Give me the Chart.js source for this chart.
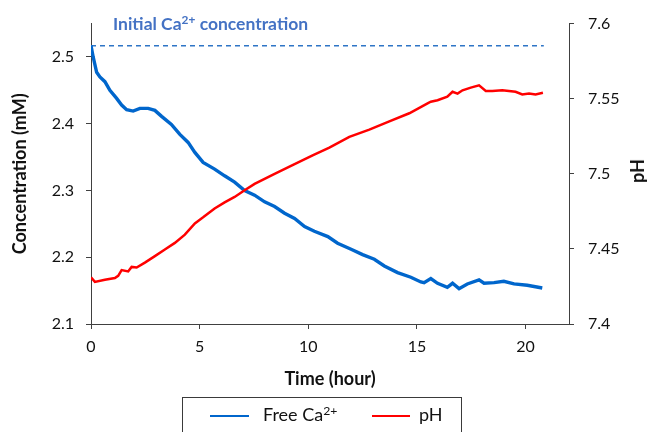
<!DOCTYPE html>
<html>
<head>
<meta charset="utf-8">
<script src="https://cdn.jsdelivr.net/npm/chart.js@4/dist/chart.umd.min.js"></script>
<style>
  html, body { margin: 0; padding: 0; background: #fff; overflow: hidden; }
  #wrap { position: relative; width: 647px; height: 432px; overflow: hidden; font-family: Lato, "Open Sans", sans-serif; }
  #chart { position: absolute; left: 0; top: 0; }
  .note { position: absolute; left: 113px; top: 13px; font-weight: bold; font-size: 17.5px; color: #4472C4; white-space: nowrap; }
  sup { font-size: 0.68em; vertical-align: 0; position: relative; top: -0.5em; line-height: 0; }
  .ytitle-r { position: absolute; left: 637px; top: 171px; transform: translate(-50%, -50%) rotate(-90deg); font-weight: bold; font-size: 18px; color: #111; white-space: nowrap; }
  .legend { position: absolute; left: 182px; top: 397px; width: 280px; height: 60px; border: 1px solid #3a3a3a; box-sizing: border-box; }
  .swatch { position: absolute; height: 2px; top: 17px; }
  .ltext { position: absolute; top: 5px; font-size: 18px; color: #111; white-space: nowrap; }
</style>
</head>
<body>
<div id="wrap">
  <canvas id="chart" width="647" height="432"></canvas>
  <div class="note">Initial Ca<sup>2+</sup> concentration</div>
  <div class="ytitle-r">pH</div>
  <div class="legend">
    <div class="swatch" style="left:27px;width:39px;background:#0066CC;"></div>
    <div class="ltext" style="left:80px;">Free Ca<sup>2+</sup></div>
    <div class="swatch" style="left:189px;width:38px;background:#FF0000;"></div>
    <div class="ltext" style="left:236px;">pH</div>
  </div>
</div>
<script>
// Free calcium concentration (mM) over time (hours)
const caTime = [0, 0.1, 0.26, 0.41, 0.64, 0.87, 1.18, 1.41, 1.64, 1.94, 2.25, 2.63, 2.94, 3.25, 3.7, 4.09, 4.47, 4.78, 5.16, 5.69, 6.15, 6.61, 7.07, 7.53, 7.99, 8.45, 8.91, 9.37, 9.83, 10.28, 10.9, 11.35, 11.97, 12.5, 13.04, 13.5, 14.11, 14.72, 15.18, 15.33, 15.64, 15.95, 16.4, 16.64, 16.94, 17.32, 17.86, 18.09, 18.55, 19.0, 19.47, 20.08, 20.77];
const caValues = [2.517, 2.500, 2.477, 2.470, 2.463, 2.450, 2.438, 2.428, 2.421, 2.419, 2.423, 2.423, 2.420, 2.411, 2.399, 2.384, 2.372, 2.357, 2.342, 2.332, 2.322, 2.3125, 2.300, 2.293, 2.283, 2.276, 2.266, 2.258, 2.246, 2.239, 2.231, 2.221, 2.212, 2.204, 2.197, 2.187, 2.177, 2.170, 2.163, 2.162, 2.168, 2.161, 2.155, 2.161, 2.153, 2.160, 2.166, 2.161, 2.162, 2.164, 2.160, 2.158, 2.154];

// pH over time (hours)
const phTime = [0, 0.18, 0.64, 1.1, 1.25, 1.41, 1.71, 1.87, 2.1, 2.48, 2.94, 3.4, 3.86, 4.32, 4.78, 5.16, 5.69, 6.15, 6.61, 7.07, 7.53, 8.45, 9.37, 10.2, 10.97, 11.89, 12.81, 13.73, 14.65, 15.49, 15.64, 15.95, 16.4, 16.64, 16.87, 17.1, 17.48, 17.86, 18.17, 18.47, 18.93, 19.54, 19.85, 20.16, 20.46, 20.8];
const phValues = [7.431, 7.428, 7.4295, 7.4306, 7.4321, 7.4359, 7.435, 7.438, 7.4376, 7.4409, 7.4452, 7.4496, 7.454, 7.4595, 7.467, 7.471, 7.4769, 7.481, 7.4846, 7.489, 7.4933, 7.4999, 7.5064, 7.5123, 7.5174, 7.5246, 7.5294, 7.5349, 7.5403, 7.5469, 7.548, 7.549, 7.5513, 7.5546, 7.5534, 7.5556, 7.5574, 7.5589, 7.5552, 7.5552, 7.5556, 7.5546, 7.5528, 7.5534, 7.5528, 7.5539];

// Reference level: initial Ca2+ concentration
const initialCa = 2.517;
const initialSpan = [0, 20.84];

// Axis ranges and tick steps
const timeRange = [0, 22, 5];
const concRange = [2.1, 2.55, 0.1];
const phRange = [7.4, 7.6, 0.05];

const toPoints = (xs, ys) => xs.map((x, i) => ({ x: x, y: ys[i] }));
// Plain tick text: 2.5, 7.55, 7.6 (no padded zeros)
const plainTick = (v) => String(Number(v.toFixed(2)));

const axisColor = '#404040';
const tickFont = { family: 'Lato', size: 16 };
const titleFont = { family: 'Lato', size: 18, weight: 'bold' };

new Chart(document.getElementById('chart'), {
  type: 'line',
  data: {
    datasets: [
      {
        label: 'pH',
        data: toPoints(phTime, phValues),
        yAxisID: 'yPh',
        borderColor: '#FF0000',
        borderWidth: 2.5,
        pointRadius: 0,
        tension: 0,
        order: 0
      },
      {
        label: 'Free Ca2+',
        data: toPoints(caTime, caValues),
        yAxisID: 'yConc',
        borderColor: '#0066CC',
        borderWidth: 3.4,
        pointRadius: 0,
        tension: 0,
        order: 1
      },
      {
        label: 'Initial',
        data: toPoints(initialSpan, [initialCa, initialCa]),
        yAxisID: 'yConc',
        borderColor: '#2E75C6',
        borderWidth: 1.5,
        borderDash: [5, 4],
        pointRadius: 0,
        order: 2
      }
    ]
  },
  options: {
    responsive: false,
    animation: false,
    devicePixelRatio: 1,
    layout: { padding: { top: 19, bottom: 38, left: 0, right: 0 } },
    plugins: { legend: { display: false }, tooltip: { enabled: false } },
    scales: {
      x: {
        type: 'linear',
        min: timeRange[0], max: timeRange[1],
        afterFit: (s) => { s.height = 70; },
        ticks: { stepSize: timeRange[2], includeBounds: false, color: '#111', font: tickFont, padding: 8, maxRotation: 0, callback: plainTick },
        grid: { drawOnChartArea: false, drawTicks: true, tickLength: 5, color: axisColor },
        border: { display: true, color: axisColor, width: 1 },
        title: { display: true, text: 'Time (hour)', color: '#111', font: titleFont, padding: { top: 0, bottom: 4 } }
      },
      yConc: {
        type: 'linear',
        position: 'left',
        min: concRange[0], max: concRange[1],
        afterFit: (s) => { s.width = 91; },
        ticks: { stepSize: concRange[2], includeBounds: false, color: '#111', font: tickFont, padding: 12, callback: plainTick },
        grid: { drawOnChartArea: false, drawTicks: true, tickLength: 5, color: axisColor },
        border: { display: true, color: axisColor, width: 1 },
        title: { display: true, text: 'Concentration (mM)', color: '#111', font: titleFont, padding: { top: 9, bottom: 0 } }
      },
      yPh: {
        type: 'linear',
        position: 'right',
        min: phRange[0], max: phRange[1],
        afterFit: (s) => { s.width = 78; },
        ticks: { stepSize: phRange[2], includeBounds: false, color: '#111', font: tickFont, padding: 14, callback: plainTick },
        grid: { drawOnChartArea: false, drawTicks: true, tickLength: 5, color: axisColor },
        border: { display: true, color: axisColor, width: 1 }
      }
    }
  }
});
</script>
</body>
</html>
